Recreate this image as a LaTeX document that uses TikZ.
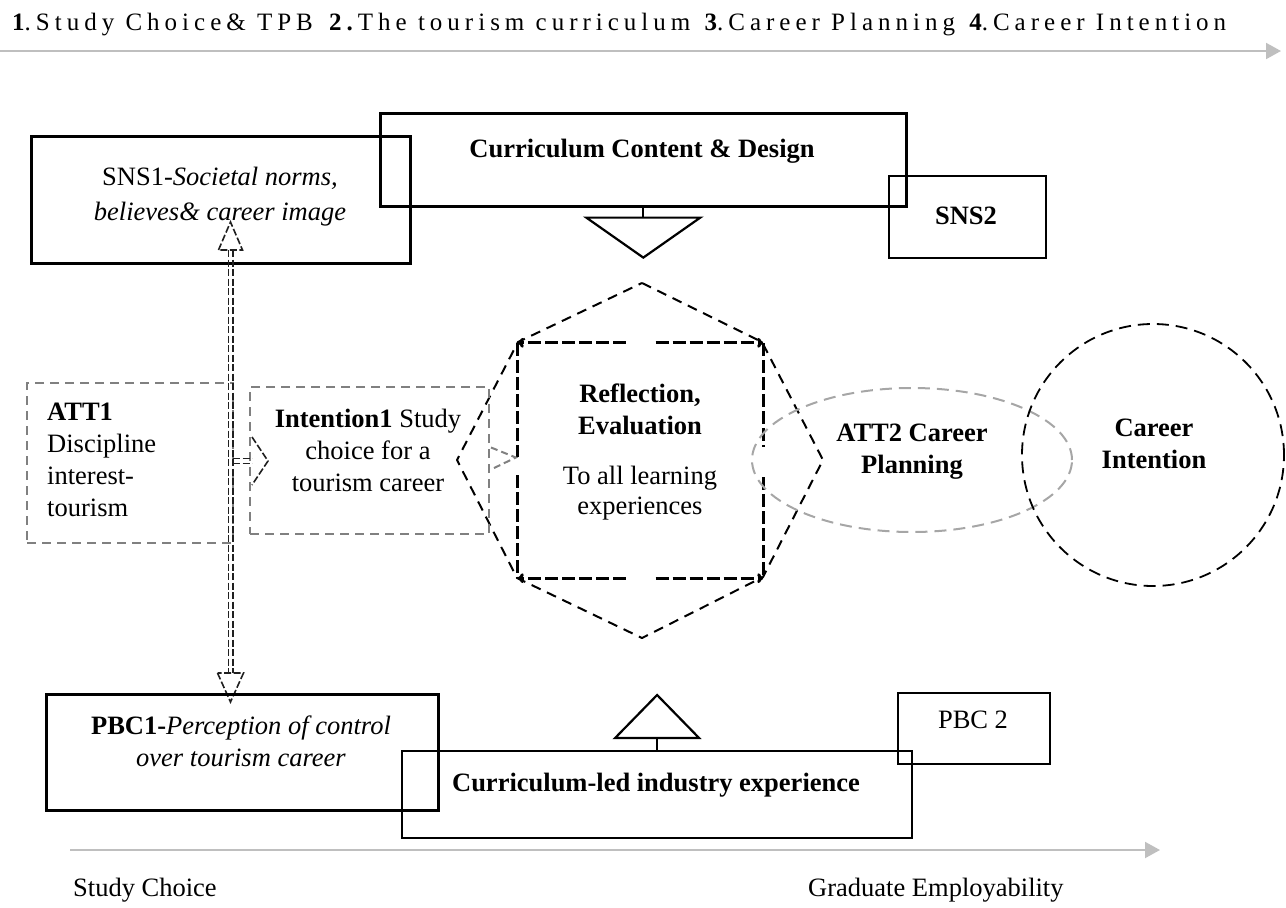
\documentclass[tikz,border=0pt]{standalone}
\usepackage{fontspec}
\setmainfont{Liberation Serif}
\newfontfamily\spacedfont{Liberation Serif}[LetterSpace=20]
\usetikzlibrary{shapes.geometric,arrows.meta,calc}
\definecolor{axisgray}{HTML}{BFBFBF}
\definecolor{boxgray}{HTML}{808080}
\definecolor{ellgray}{HTML}{A6A6A6}
\definecolor{arrowdark}{HTML}{202020}
\begin{document}
\begin{tikzpicture}[x=1pt,y=-1pt,
  txt/.style={font=\fontsize{26.5}{32}\selectfont, inner sep=0pt, align=center},
  btxt/.style={txt, font=\fontsize{26.5}{32}\selectfont\bfseries},
  heavybox/.style={draw, line width=2.6pt, anchor=north west, inner sep=0pt},
  lightbox/.style={draw, line width=1.5pt, anchor=north west, inner sep=0pt},
  dashbox/.style={draw=boxgray, line width=2pt, dash pattern=on 9pt off 6pt, anchor=north west, inner sep=0pt},
  timeline/.style={axisgray, line width=2pt, -{Triangle[length=15pt,width=16pt]}},
  pointer/.style={line width=2.2pt, line join=miter},
  hexline/.style={line width=2pt, dash pattern=on 10pt off 7pt, line join=round},
  sqline/.style={line width=3pt, dash pattern=on 13pt off 4pt},
  sqtip/.style={sqline, -{To[length=6pt,width=10pt]}},
  dblline/.style={arrowdark, line width=1.6pt, dash pattern=on 7pt off 2.5pt},
]
\useasboundingbox (0,0) rectangle (1286,908);

% stage headings and the upper time line
\node[anchor=base west, inner sep=0pt, font=\spacedfont\fontsize{25}{29}\selectfont] (stages) at (12,30)
  {\textbf{1}.Study Choice\& TPB \textbf{2.}The tourism curriculum\hspace{3pt} \textbf{3}.Career Planning\hspace{3pt} \textbf{4}.Career Intention};
\coordinate (tlA) at (0,51);
\coordinate (tlB) at (1281,51);
\draw[timeline] (tlA) -- (tlB);

% subjective norms and curriculum design
\node[heavybox, minimum width=379, minimum height=127] (sns1) at (30,135) {};
\node[heavybox, minimum width=526, minimum height=93] (ccd) at (379,112) {};
\node[lightbox, minimum width=157, minimum height=82] (sns2) at (888,175) {};
\node[txt, font=\fontsize{26.5}{35}\selectfont] (sns1txt) at (220,197) {SNS1-\textit{Societal norms,}\\ \textit{believes\& career image}};
\node[btxt] (ccdtxt) at (642,151) {Curriculum Content \& Design};
\node[btxt] (sns2txt) at (966,216) {SNS2};

\draw[pointer] (ccd.south) -- ++(0,10) coordinate (dntop);
\draw[pointer] ($(dntop)+(-57,0)$) -- ($(dntop)+(57,0)$) -- ($(dntop)+(0,40)$) -- cycle;

% reflection hub
\coordinate (oT) at (642,283);
\coordinate (oUR) at (762,342);
\coordinate (oR) at (823,460);
\coordinate (oLR) at (763,577);
\coordinate (oB) at (642,638);
\coordinate (oLL) at (517,578);
\coordinate (oL) at (457,460);
\coordinate (oUL) at (518,342);
\draw[hexline] (oT) -- (oUR) -- (oR) -- (oLR) -- (oB) -- (oLL) -- (oL) -- (oUL) -- cycle;

\node[minimum width=245, minimum height=235, inner sep=0pt] (refl) at (640.5,460.5) {};
\draw[sqtip] ($(refl.north)+(15,0)$) -- (refl.north east);
\draw[sqtip] ($(refl.north)+(-15,0)$) -- (refl.north west);
\draw[sqtip] ($(refl.south)+(15,0)$) -- (refl.south east);
\draw[sqtip] ($(refl.south)+(-15,0)$) -- (refl.south west);
\draw[sqline] (refl.north west) -- ($(refl.west)+(0,-3.5)$);
\draw[sqline] ($(refl.west)+(0,14.5)$) -- (refl.south west);
\draw[sqline] (refl.north east) -- ($(refl.east)+(0,-13.5)$);
\draw[sqline] ($(refl.east)+(0,16.5)$) -- (refl.south east);
\node[btxt] (refltitle) at (640,409) {Reflection,\\Evaluation};
\node[txt, font=\fontsize{26.5}{30}\selectfont] (reflbody) at (640,493) {To all learning\\experiences};

% attitudes and intentions
\node[dashbox, minimum width=206, minimum height=160] (att1) at (26,382) {};
\node[dashbox, minimum width=239, minimum height=147] (int1) at (249,386) {};
\node[txt, align=left, anchor=west] (att1txt) at (47,460) {\textbf{ATT1}\\Discipline\\interest-\\tourism};
\node[txt] (int1txt) at (368,450) {\textbf{Intention1} Study\\choice for a\\tourism career};
\draw[boxgray, line width=2pt, dash pattern=on 7pt off 4pt]
  ($(int1.east)+(1,-13)$) -- ($(refl.west)+(-2,-3)$) -- ($(int1.east)+(1,9)$);

\node[ellipse, draw=ellgray, line width=2pt, dash pattern=on 12pt off 7pt, minimum width=320, minimum height=144, inner sep=0pt] (att2) at (912,460) {};
\node[circle, draw, line width=1.8pt, dash pattern=on 12pt off 7pt, minimum size=262, inner sep=0pt] (career) at (1153,455) {};
\node[btxt] (att2txt) at (912,452) {ATT2 Career\\Planning};
\node[btxt] (careertxt) at (1154,444) {Career\\Intention};

% two-way link between SNS1 and PBC1, with a branch to Intention1
\coordinate (upTip) at (230.5,222);
\coordinate (upBase) at (230.5,250);
\coordinate (dnBase) at (230.5,673);
\coordinate (dnTip) at (230.5,702);
\coordinate (rtBase) at (252,461);
\coordinate (rtTip) at (268,461);
\draw[dblline] ($(upBase)+(-2.2,0)$) -- ($(dnBase)+(-2.2,0)$);
\draw[dblline] ($(upBase)+(2.2,0)$) -- ($(dnBase)+(2.2,0)$);
\draw[dblline] ($(upBase)+(-12,0)$) -- (upTip) -- ($(upBase)+(12,0)$) -- cycle;
\draw[dblline] ($(dnBase)+(-13,0)$) -- (dnTip) -- ($(dnBase)+(13,0)$) -- cycle;
\draw[dblline] ($(rtBase)+(-19,-2.5)$) -- ($(rtBase)+(0,-2.5)$);
\draw[dblline] ($(rtBase)+(-19,2.5)$) -- ($(rtBase)+(0,2.5)$);
\draw[dblline] ($(rtBase)+(0,-24)$) -- (rtTip) -- ($(rtBase)+(0,24)$);

% perceived control and industry experience
\node[heavybox, minimum width=392, minimum height=116] (pbc1) at (45,693) {};
\node[heavybox, line width=2.2pt, minimum width=510, minimum height=87] (cle) at (401,750) {};
\node[lightbox, minimum width=152, minimum height=71] (pbc2) at (897,692) {};
\node[txt] (pbc1txt) at (241,741) {\textbf{PBC1-}\textit{Perception of control}\\ \textit{over tourism career}};
\node[btxt] (cletxt) at (656,785) {Curriculum-led industry experience};
\node[txt] (pbc2txt) at (973,720) {PBC 2};

\draw[pointer] (cle.north) -- ++(0,-12) coordinate (upbase2);
\draw[pointer] ($(upbase2)+(-42,0)$) -- ($(upbase2)+(42,0)$) -- ($(upbase2)+(0,-43)$) -- cycle;

% lower time line
\coordinate (blA) at (70,850);
\coordinate (blB) at (1160,850);
\draw[timeline] (blA) -- (blB);
\node[txt, anchor=west] (startlbl) at (73,890) {Study Choice};
\node[txt, anchor=west] (endlbl) at (808,890) {Graduate Employability};
\end{tikzpicture}
\end{document}
